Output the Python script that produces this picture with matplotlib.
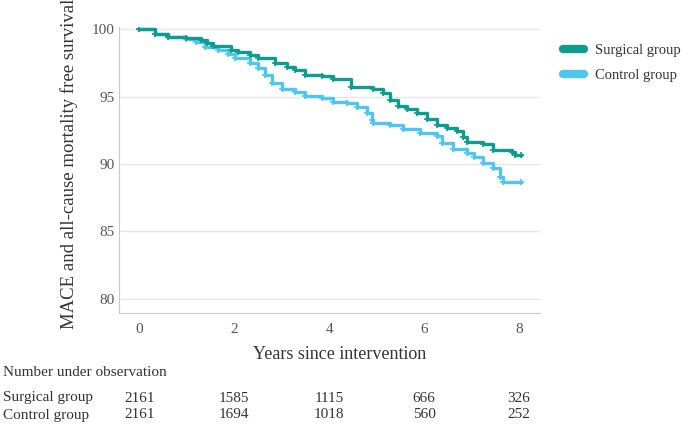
import matplotlib
matplotlib.use('Agg')
import matplotlib.pyplot as plt
from matplotlib.lines import Line2D
from matplotlib import transforms

# --- Data ---
surg_t = [0, 0.33, 0.61, 0.99, 1.3, 1.42, 1.55, 1.94, 2.08, 2.33, 2.5, 2.86, 3.1,
          3.28, 3.49, 3.84, 4.08, 4.45, 4.93, 5.14, 5.28, 5.45, 5.63, 5.84, 6.05,
          6.26, 6.48, 6.69, 6.82, 6.9, 7.24, 7.45, 7.85, 7.92, 8.03]
surg_s = [100, 99.65, 99.46, 99.33, 99.2, 98.96, 98.76, 98.5, 98.3, 98.1, 97.85,
          97.5, 97.2, 96.98, 96.6, 96.5, 96.3, 95.74, 95.54, 95.25, 94.75, 94.3,
          94.06, 93.76, 93.32, 92.9, 92.65, 92.48, 92.03, 91.66, 91.49, 91.04,
          90.92, 90.7, 90.7]

ctrl_t = [0, 0.33, 0.61, 0.99, 1.2, 1.38, 1.66, 1.87, 2.01, 2.33, 2.5, 2.65, 2.79,
          3.0, 3.28, 3.49, 3.84, 4.08, 4.37, 4.58, 4.79, 4.89, 4.93, 5.28, 5.56,
          5.91, 6.26, 6.37, 6.61, 6.9, 7.04, 7.24, 7.45, 7.6, 7.67, 8.03]
ctrl_s = [100, 99.65, 99.46, 99.3, 99.08, 98.7, 98.5, 98.2, 97.85, 97.48, 97.1,
          96.6, 96.0, 95.6, 95.37, 95.05, 94.88, 94.63, 94.55, 94.26, 93.76, 93.27,
          93.02, 92.9, 92.57, 92.28, 92.08, 91.53, 91.09, 90.84, 90.5, 90.05, 89.68,
          89.06, 88.69, 88.69]

risk_times = [0, 2, 4, 6, 8]
risk_surg = [2161, 1585, 1115, 666, 326]
risk_ctrl = [2161, 1694, 1018, 560, 252]

SURG_COL = '#0e9c90'
CTRL_COL = '#4fc5f2'
TXT = '#333333'

plt.rcParams['font.family'] = ['Liberation Serif', 'DejaVu Serif']

fig = plt.figure(figsize=(6.85, 4.24), dpi=100)
ax = fig.add_axes([119 / 685, 1 - 313 / 424, 421 / 685, 286 / 424])

ax.step(ctrl_t, ctrl_s, where='post', color=CTRL_COL, lw=2.4,
        marker='+', ms=5, mew=1.2)
ax.step(surg_t, surg_s, where='post', color=SURG_COL, lw=2.4,
        marker='+', ms=5, mew=1.2)

ax.set_xlim(-0.43, 8.44)
ax.set_ylim(78.95, 100.17)
ax.set_xticks(risk_times)
ax.set_yticks([80, 85, 90, 95, 100])
ax.grid(axis='y', color='#e6e6e6', lw=1)
ax.set_axisbelow(True)
for side in ['top', 'right']:
    ax.spines[side].set_visible(False)
for side in ['left', 'bottom']:
    ax.spines[side].set_color('#c8c8c8')
ax.tick_params(length=0, labelsize=11, labelcolor='#555555')
ax.tick_params(axis='x', pad=7)
ax.tick_params(axis='y', pad=3)

ax.set_xlabel('Years since intervention', fontsize=13, color=TXT)
ax.xaxis.set_label_coords(0.525, -0.115)
ax.set_ylabel('MACE and all-cause mortality free survival', fontsize=13.5, color=TXT)
ax.yaxis.set_label_coords(-0.097, 0.52)

handles = [Line2D([], [], color=SURG_COL, lw=6, solid_capstyle='round'),
           Line2D([], [], color=CTRL_COL, lw=6, solid_capstyle='round')]
leg = fig.legend(handles, ['Surgical group', 'Control group'], loc='upper left',
                 bbox_to_anchor=(550 / 685, 1 - 31 / 424), frameon=False,
                 fontsize=10.5, handlelength=1.45, handletextpad=0.75,
                 labelspacing=0.78)
for t in leg.get_texts():
    t.set_color(TXT)

# numbers-at-risk table
fig.text(3 / 685, 1 - 372 / 424, 'Number under observation', fontsize=11,
         color=TXT, va='center')
trans = transforms.blended_transform_factory(ax.transData, fig.transFigure)
rows = [('Surgical group', risk_surg, 398), ('Control group', risk_ctrl, 415)]
for name, vals, ypx in rows:
    fig.text(3 / 685, 1 - ypx / 424, name, fontsize=11, color=TXT, va='center')
    for t, v in zip(risk_times, vals):
        ax.text(t, 1 - ypx / 424, str(v), transform=trans, fontsize=11,
                color=TXT, ha='center', va='center')

fig.savefig('out.png', dpi=100)
